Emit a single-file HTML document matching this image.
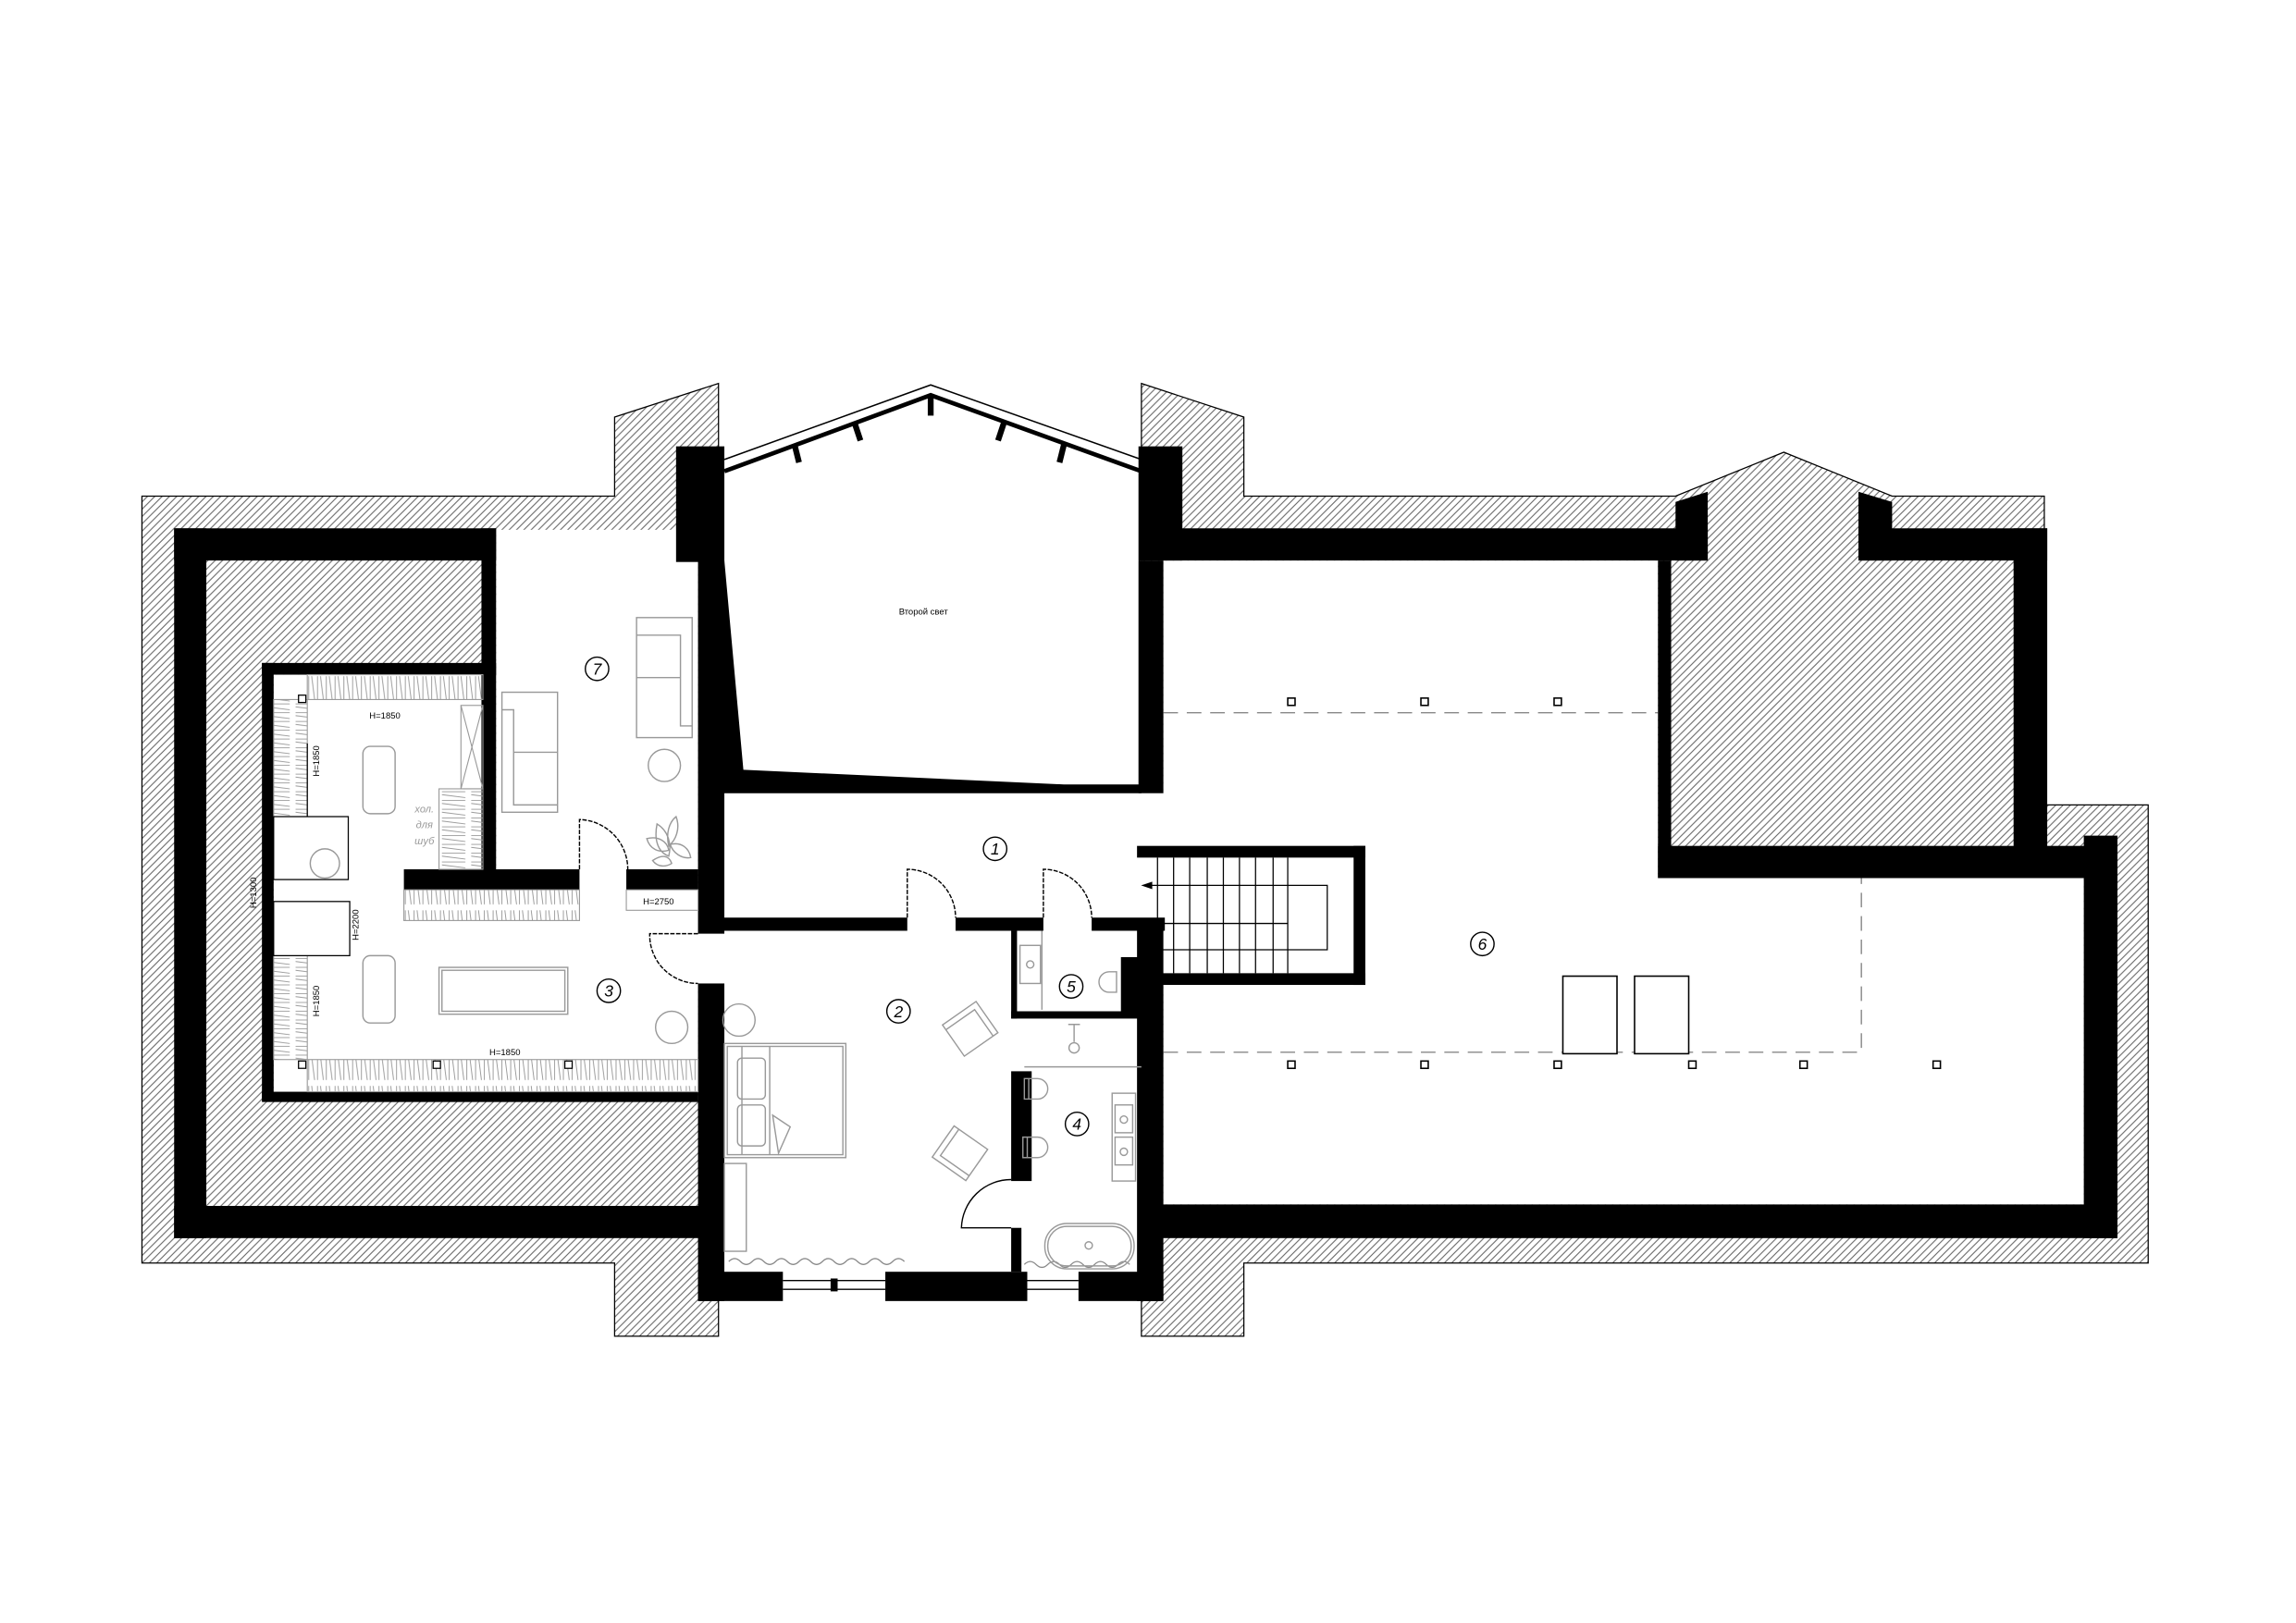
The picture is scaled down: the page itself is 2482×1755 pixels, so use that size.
<!DOCTYPE html>
<html><head><meta charset="utf-8"><style>html,body{margin:0;padding:0;background:#fff}svg{display:block}</style></head>
<body>
<svg width="2482" height="1755" viewBox="0 0 1569 1109" preserveAspectRatio="none" xmlns="http://www.w3.org/2000/svg" font-family="Liberation Sans, sans-serif">
<defs>
<pattern id="h" width="5" height="5" patternUnits="userSpaceOnUse">
<path d="M-1,6 L6,-1 M-1,1 L1,-1 M4,6 L6,4" stroke="#666" stroke-width="0.7"/>
</pattern>
<pattern id="z" width="6" height="20" patternUnits="userSpaceOnUse">
<path d="M1,2 L1,18 M3,2 L5,18" stroke="#999" stroke-width="0.6"/>
</pattern>
<pattern id="zv" width="20" height="6" patternUnits="userSpaceOnUse">
<path d="M2,1 L18,1 M2,3 L18,5" stroke="#999" stroke-width="0.6"/>
</pattern>
</defs>
<rect width="1569" height="1109" fill="#fff"/>
<polygon points="97,339 420,339 420,285 491,262 491,913 420,913 420,863 97,863" fill="url(#h)" stroke="#000" stroke-width="0.8"/>
<polygon points="780,262 850,285 850,339 1145,339 1219,309 1293,339 1397,339 1397,550 1468,550 1468,863 850,863 850,913 780,913" fill="url(#h)" stroke="#000" stroke-width="0.8"/>
<g fill="#fff">
<rect x="339" y="362" width="138" height="240"/>
<rect x="187" y="461" width="143" height="140"/>
<rect x="187" y="594" width="290" height="153"/>
<rect x="470" y="608" width="26" height="66"/>
<polygon points="495,314 636,263 780,314 780,542 495,542"/>
<rect x="493" y="540" width="287" height="90"/>
<rect x="493" y="630" width="285" height="240"/>
<polygon points="795,383 1133,383 1133,600 1424,600 1424,823 795,823"/>
<rect x="777" y="578" width="156" height="95"/>
<rect x="776" y="540" width="22" height="40"/>
<rect x="494" y="868" width="300" height="21"/>
</g>
<polyline points="495,314 636,263 780,314" fill="none" stroke="#000" stroke-width="1"/>
<polyline points="495,322 636,270 780,322" fill="none" stroke="#000" stroke-width="3"/>
<g stroke="#000" stroke-width="4">
<line x1="636" y1="270" x2="636" y2="284"/>
<line x1="584" y1="289" x2="588" y2="301"/>
<line x1="543" y1="304" x2="546" y2="316"/>
<line x1="686" y1="289" x2="682" y2="301"/>
<line x1="727" y1="304" x2="724" y2="316"/>
</g>
<g fill="#000">
<rect x="119" y="361" width="220" height="22"/>
<rect x="119" y="361" width="22" height="485"/>
<rect x="119" y="824" width="372" height="22"/>
<rect x="329" y="361" width="10" height="247"/>
<rect x="179" y="453" width="160" height="8"/>
<rect x="179" y="453" width="8" height="299"/>
<rect x="179" y="746" width="298" height="7"/>
<rect x="276" y="594" width="120" height="14"/>
<rect x="428" y="594" width="49" height="14"/>
<rect x="462" y="305" width="33" height="79"/>
<polygon points="477,383 495,383 508,526 727,536 780,536 780,542 495,542 495,638 477,638"/>
<rect x="477" y="672" width="18" height="217"/>
<rect x="493" y="627" width="127" height="9"/>
<rect x="653" y="627" width="60" height="9"/>
<rect x="746" y="627" width="50" height="9"/>
<rect x="691" y="636" width="4" height="60"/>
<rect x="691" y="691" width="87" height="5"/>
<rect x="691" y="732" width="14" height="75"/>
<rect x="691" y="839" width="7" height="30"/>
<rect x="766" y="654" width="12" height="38"/>
<rect x="477" y="869" width="58" height="20"/>
<rect x="605" y="869" width="97" height="20"/>
<rect x="737" y="869" width="58" height="20"/>
<rect x="778" y="305" width="30" height="78"/>
<rect x="778" y="383" width="17" height="159"/>
<rect x="777" y="634" width="18" height="255"/>
<rect x="795" y="361" width="372" height="22"/>
<polygon points="1145,343 1167,336 1167,383 1145,383"/>
<rect x="1270" y="361" width="129" height="22"/>
<polygon points="1270,336 1293,343 1293,383 1270,383"/>
<rect x="1376" y="361" width="23" height="218"/>
<rect x="1133" y="383" width="9" height="217"/>
<rect x="1133" y="578" width="314" height="22"/>
<rect x="1424" y="571" width="23" height="275"/>
<rect x="778" y="823" width="669" height="23"/>
<rect x="777" y="578" width="156" height="8"/>
<rect x="925" y="578" width="8" height="95"/>
<rect x="786" y="665" width="147" height="8"/>
</g>
<g stroke="#000" stroke-width="0.8" fill="none">
<path d="M791,586V665M802,586V665M813,586V665M825,586V665M836,586V665M847,586V665M858,586V665M870,586V665M880,586V665"/>
<path d="M781,605H907V649H786M786,631H880"/>
<path d="M781,605 l6,-2 v4 z" fill="#000"/>
</g>
<g stroke="#000" stroke-width="0.8">
<path d="M535,875H605M535,881H605M702,875H737M702,881H737"/>
<rect x="568" y="874" width="4" height="8" fill="#000"/>
</g>
<g fill="none" stroke="#888" stroke-width="0.8">
<path d="M498,862 q4,-4 8,0 t8,0 t8,0 t8,0 t8,0 t8,0 t8,0 t8,0 t8,0 t8,0 t8,0 t8,0 t8,0 t8,0 t8,0"/>
<path d="M700,864 q4,-4 8,0 t8,0 t8,0 t8,0 t8,0 t8,0 t8,0 t8,0 t8,0"/>
</g>
<g fill="none" stroke="#000" stroke-width="0.9">
<path d="M396,594V560A34,34 0 0 1 429,594" stroke-dasharray="3,1"/>
<path d="M477,638H444A33,33 0 0 0 477,672" stroke-dasharray="3,1"/>
<path d="M620,627V594A33,33 0 0 1 653,627" stroke-dasharray="3,1"/>
<path d="M713,627V594A33,33 0 0 1 746,627" stroke-dasharray="3,1"/>
<path d="M691,839H657A34,34 0 0 1 691,806"/>
</g>
<g stroke="#888" stroke-width="0.9" fill="none" stroke-dasharray="10,6">
<path d="M795,487H1133M795,719H1272V600"/>
</g>
<g fill="#fff" stroke="#000" stroke-width="1">
<rect x="880" y="477" width="5" height="5"/><rect x="971" y="477" width="5" height="5"/><rect x="1062" y="477" width="5" height="5"/>
<rect x="880" y="725" width="5" height="5"/><rect x="971" y="725" width="5" height="5"/><rect x="1062" y="725" width="5" height="5"/>
<rect x="1154" y="725" width="5" height="5"/><rect x="1230" y="725" width="5" height="5"/><rect x="1321" y="725" width="5" height="5"/>
<rect x="1068" y="667" width="37" height="53"/><rect x="1117" y="667" width="37" height="53"/>
</g>
<g stroke="#999" stroke-width="0.7">
<rect x="210" y="461" width="120" height="17" fill="url(#z)"/>
<rect x="187" y="478" width="23" height="80" fill="url(#zv)"/>
<rect x="187" y="653" width="23" height="71" fill="url(#zv)"/>
<rect x="210" y="724" width="267" height="22" fill="url(#z)"/>
<rect x="276" y="608" width="120" height="21" fill="url(#z)"/>
<rect x="428" y="608" width="49" height="14" fill="#fff"/>
<rect x="315" y="482" width="15" height="57" fill="none"/>
<path d="M315,482L330,539M330,482L315,539" fill="none"/>
<rect x="300" y="539" width="30" height="55" fill="url(#zv)"/>
</g>
<path d="M210,508V558" stroke="#000" stroke-width="0.8"/>
<g fill="#fff" stroke="#000" stroke-width="0.8">
<rect x="187" y="558" width="51" height="43"/>
<rect x="187" y="616" width="52" height="37"/>
<rect x="204" y="475" width="5" height="5"/><rect x="204" y="725" width="5" height="5"/>
<rect x="296" y="725" width="5" height="5"/><rect x="386" y="725" width="5" height="5"/>
</g>
<g fill="none" stroke="#999" stroke-width="0.9">
<circle cx="222" cy="590" r="10"/>
<rect x="248" y="510" width="22" height="46" rx="5"/>
<rect x="248" y="653" width="22" height="46" rx="5"/>
<rect x="300" y="661" width="88" height="32"/><rect x="302" y="663" width="84" height="28"/>
<circle cx="459" cy="702" r="11"/>
<rect x="435" y="422" width="38" height="82"/><path d="M435,434H465V496H473M435,463H465"/>
<rect x="343" y="473" width="38" height="82"/><path d="M343,485H351V550H381M351,514H381"/>
<circle cx="454" cy="523" r="11"/>
<path d="M449,563c8,5 10,14 8,22c-8,-3 -10,-12 -8,-22zM462,558c3,8 0,16 -5,20c-2,-8 0,-16 5,-20zM442,573c8,-2 14,2 15,8c-7,2 -13,-1 -15,-8zM458,577c8,-2 13,3 14,9c-6,1 -12,-3 -14,-9zM446,588c6,-4 11,-4 13,2c-5,3 -10,2 -13,-2z"/>
<circle cx="505" cy="697" r="11"/>
<rect x="495" y="713" width="83" height="78"/><rect x="497" y="715" width="79" height="74"/>
<path d="M507,715V789M526,715V789"/>
<rect x="504" y="723" width="19" height="28" rx="3"/><rect x="504" y="755" width="19" height="28" rx="3"/>
<path d="M528,762L540,770L532,788Z"/>
<rect x="495" y="795" width="15" height="60"/>
<g transform="translate(663,703) rotate(-35)"><rect x="-14" y="-13" width="28" height="26"/><path d="M-14,-9H10V13"/></g>
<g transform="translate(656,788) rotate(35)"><rect x="-14" y="-13" width="28" height="26"/><path d="M-10,-13V9H14"/></g>
<rect x="697" y="646" width="14" height="26"/><circle cx="704" cy="659" r="2.5"/>
<path d="M712,636V690"/>
<path d="M763,664h-5a7,7 0 0 0 0,14h5zM763,664v14"/>
<path d="M734,700V712M730,700H738"/><circle cx="734" cy="716" r="3.5"/>
<path d="M700,729H780"/>
<path d="M700,737h9a7,7 0 0 1 0,14h-9zM703,737v14"/>
<path d="M699,777h10a7,7 0 0 1 0,14h-10zM702,777v14"/>
<rect x="760" y="747" width="16" height="60"/><rect x="762" y="755" width="12" height="19"/><rect x="762" y="777" width="12" height="19"/>
<circle cx="768" cy="765" r="2.5"/><circle cx="768" cy="787" r="2.5"/>
<rect x="714" y="836" width="61" height="31" rx="15"/><rect x="716" y="838" width="57" height="27" rx="13"/>
<circle cx="744" cy="851" r="2.5"/>
</g>
<g fill="none" stroke="#000" stroke-width="0.9">
<circle cx="408" cy="457" r="8"/><circle cx="416" cy="677" r="8"/><circle cx="680" cy="580" r="8"/>
<circle cx="614" cy="691" r="8"/><circle cx="732" cy="674" r="8"/><circle cx="736" cy="768" r="8"/><circle cx="1013" cy="645" r="8"/>
</g>
<g font-size="11" font-style="italic" text-anchor="middle" fill="#000">
<text x="408" y="461">7</text><text x="416" y="681">3</text><text x="680" y="584">1</text>
<text x="614" y="695">2</text><text x="732" y="678">5</text><text x="736" y="772">4</text><text x="1013" y="649">6</text>
</g>
<g font-size="6" fill="#000" text-anchor="middle">
<text x="631" y="420">Второй свет</text>
<text x="263" y="491">H=1850</text>
<text x="345" y="721">H=1850</text>
<text x="450" y="618">H=2750</text>
<text transform="translate(218,520) rotate(-90)">H=1850</text>
<text transform="translate(218,684) rotate(-90)">H=1850</text>
<text transform="translate(245,632) rotate(-90)">H=2200</text>
<text transform="translate(175,610) rotate(-90)">H=1300</text>
</g>
<g font-size="7" font-style="italic" fill="#999" text-anchor="middle">
<text x="290" y="555">хол.</text><text x="290" y="566">для</text><text x="290" y="577">шуб</text>
</g>
</svg>
</body></html>
